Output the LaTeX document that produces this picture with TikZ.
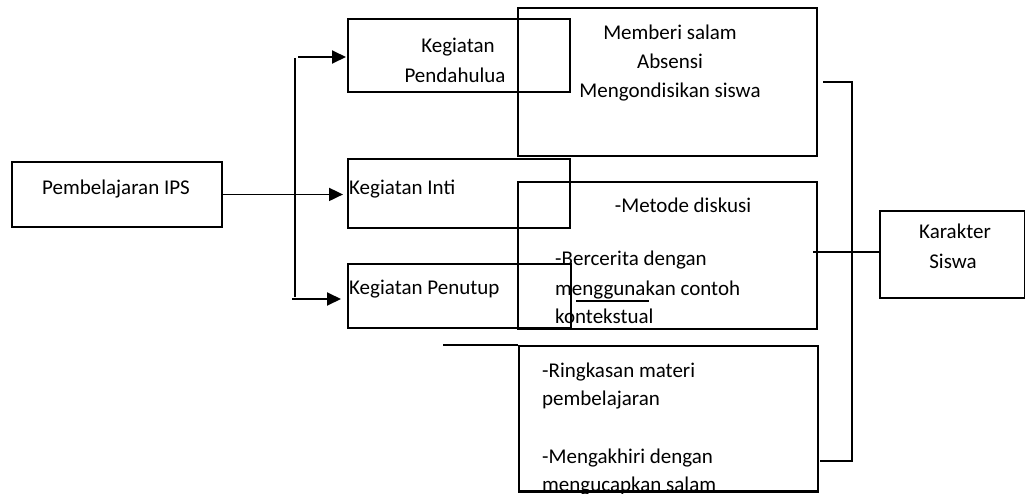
\documentclass[tikz,border=0pt]{standalone}
\usepackage{fontspec}
\setmainfont{Carlito}
\usetikzlibrary{arrows.meta}
\begin{document}
\begin{tikzpicture}[x=1pt,y=-1pt,
  box/.style={draw,line width=1.9pt,inner sep=0pt,anchor=north west},
  txt/.style={inner sep=0pt,anchor=base,font=\fontsize{21}{29}\selectfont},
  ltxt/.style={txt,anchor=base west},
  ln/.style={line width=1.9pt},
  arr/.style={line width=1.9pt,-{Triangle[length=14pt,width=13pt]}}]
\useasboundingbox (0,0) rectangle (1025,493);
\clip (0,0) rectangle (1025,493);
% boxes
\node[box,minimum width=210pt,minimum height=65pt] (ips) at (11,161) {};
\node[box,minimum width=222pt,minimum height=73pt] (pend) at (347,18) {};
\node[box,minimum width=299pt,minimum height=148pt] (salam) at (517,7) {};
\node[box,minimum width=222pt,minimum height=69pt] (inti) at (347,158) {};
\node[box,minimum width=299pt,minimum height=147pt] (metode) at (517,181) {};
\node[box,minimum width=223pt,minimum height=64pt] (penutup) at (347,263) {};
\node[box,minimum width=299pt,minimum height=145pt] (ringkas) at (518,345) {};
\node[box,minimum width=145pt,minimum height=87pt] (kar) at (879,210) {};
% texts
\node[txt] (tips) at (116,194) {Pembelajaran IPS};
\node[txt] (tpend1) at (458,52) {Kegiatan};
\node[txt] (tpend2) at (455,82) {Pendahulua};
\node[txt] (ts1) at (670,39) {Memberi salam};
\node[txt] (ts2) at (670,68) {Absensi};
\node[txt] (ts3) at (670,97) {Mengondisikan siswa};
\node[ltxt] (tinti) at (349,194) {Kegiatan Inti};
\node[txt] (tm1) at (683,212) {-Metode diskusi};
\node[ltxt] (tm2) at (555,265) {-Bercerita dengan};
\node[ltxt] (tm3) at (555,295) {menggunakan contoh};
\node[ltxt] (tm4) at (555,323) {kontekstual};
\node[ltxt] (tpen) at (349,294) {Kegiatan Penutup};
\node[ltxt] (tr1) at (542,377) {-Ringkasan materi};
\node[ltxt] (tr2) at (542,405) {pembelajaran};
\node[ltxt] (tr3) at (542,463) {-Mengakhiri dengan};
\node[ltxt] (tr4) at (542,491) {mengucapkan salam};
\node[txt] (tk1) at (955,238) {Karakter};
\node[txt] (tk2) at (953,268) {Siswa};
% redraw bottom edge over clipped text
\draw[ln] (ringkas.south west) -- (ringkas.south east);
% underline
\coordinate (u1) at (576,301);
\coordinate (u2) at (649,301);
\draw[line width=1.4pt] (u1) -- (u2);
% left connectors
\coordinate (vtop) at (295,58);
\coordinate (vbot) at (295,297);
\draw[ln] (vtop) -- (vbot);
\coordinate (a1s) at (298,57);
\coordinate (a1e) at (346,57);
\draw[arr] (a1s) -- (a1e);
\coordinate (a2e) at (343,192);
\draw[arr] (ips.east) -- (ips.east -| a2e);
\coordinate (a3s) at (292,299);
\coordinate (a3e) at (341,299);
\draw[arr] (a3s) -- (a3e);
\coordinate (hl) at (443,345);
\draw[ln] (hl) -- (ringkas.north west);
% right bracket
\coordinate (b1) at (823,82);
\coordinate (b2) at (852,461);
\coordinate (b3) at (820,461);
\draw[ln] (b1) -| (b2) -- (b3);
\coordinate (m1) at (813,252);
\draw[ln] (m1) -- (m1 -| kar.west);
\end{tikzpicture}
\end{document}
